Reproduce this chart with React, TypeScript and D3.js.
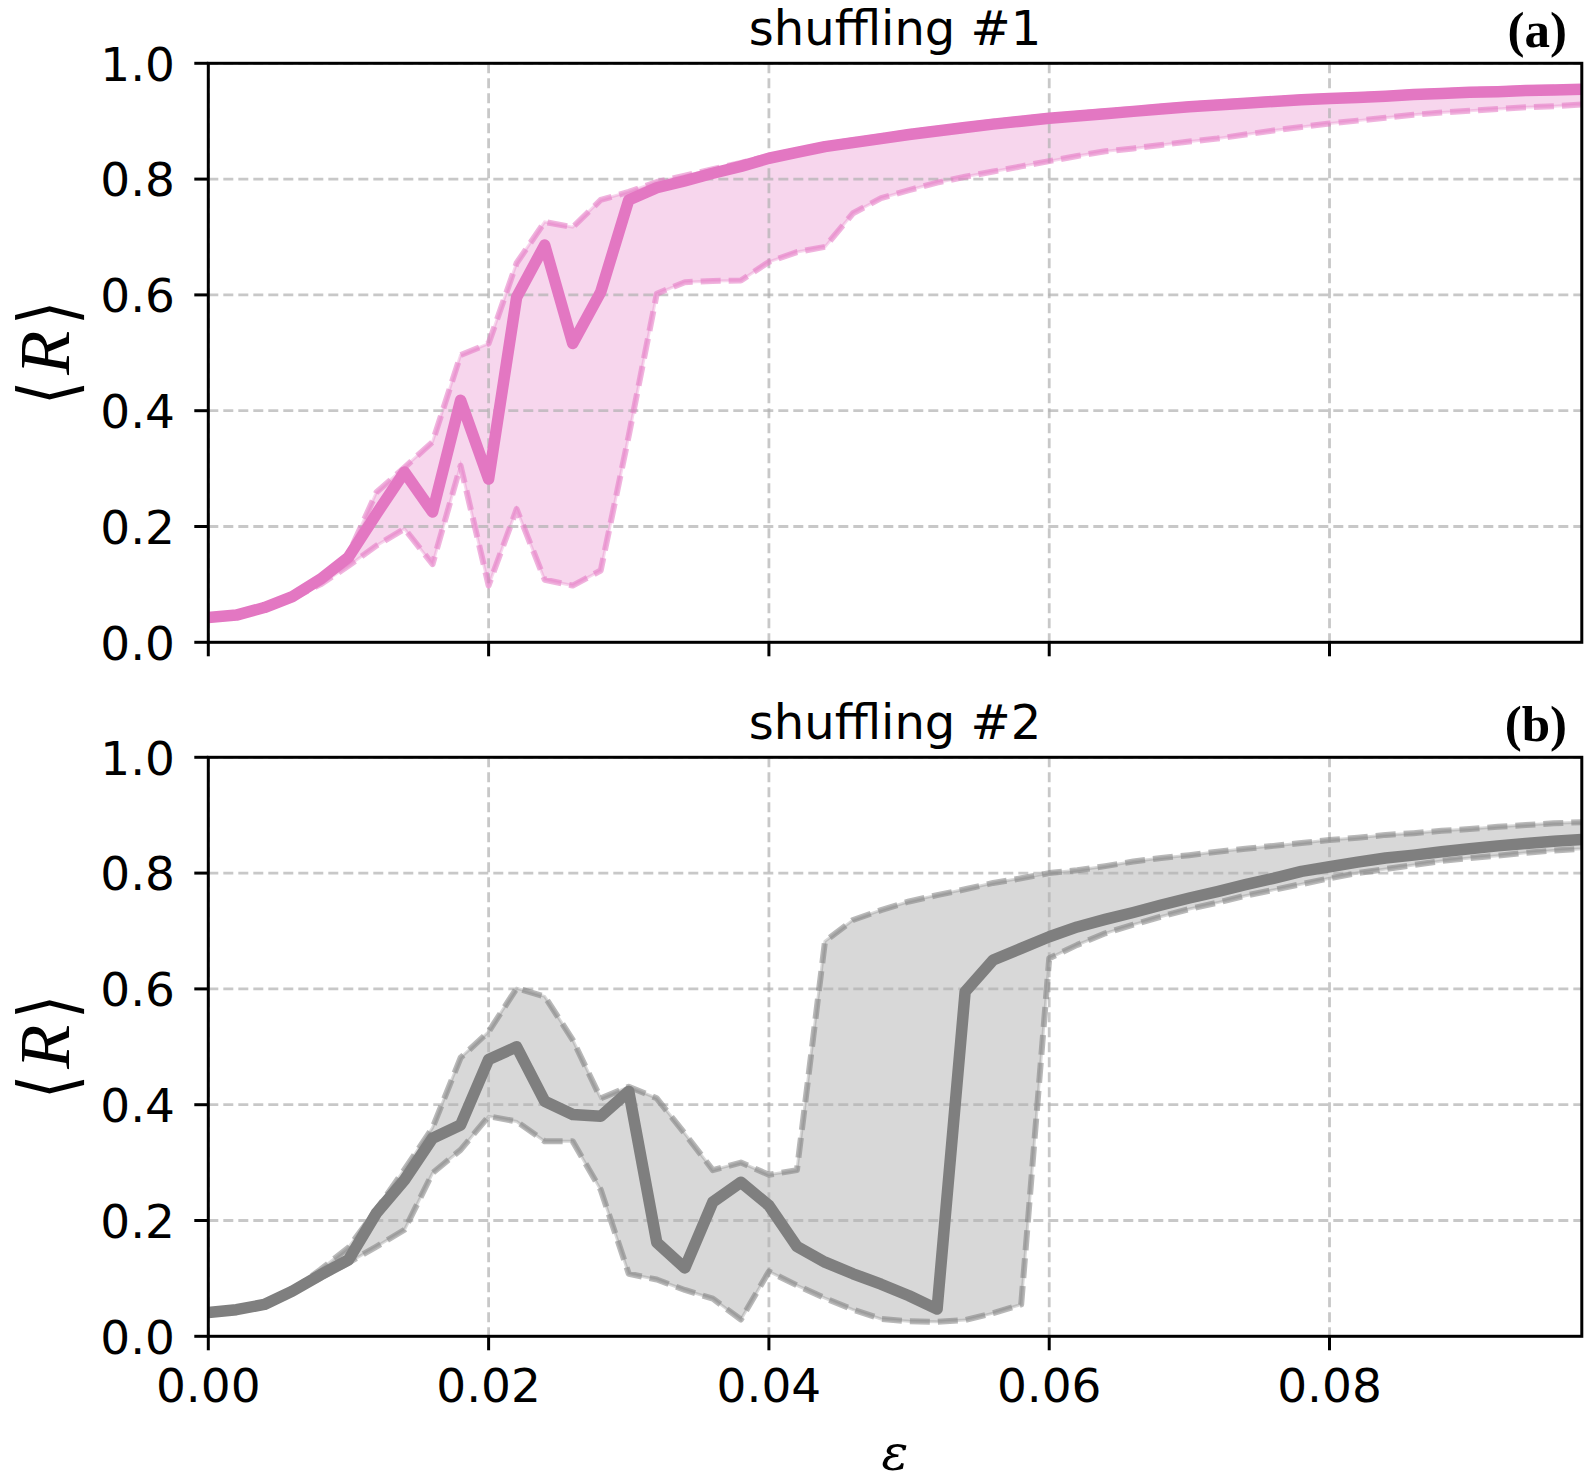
import { area, line, scaleLinear } from 'd3';

// coupling strength (x), one sample every 0.002
const eps = [
  0, 0.002, 0.004, 0.006, 0.008, 0.01, 0.012, 0.014, 0.016, 0.018,
  0.02, 0.022, 0.024, 0.026, 0.028, 0.03, 0.032, 0.034, 0.036, 0.038,
  0.04, 0.042, 0.044, 0.046, 0.048, 0.05, 0.052, 0.054, 0.056, 0.058,
  0.06, 0.062, 0.064, 0.066, 0.068, 0.07, 0.072, 0.074, 0.076, 0.078,
  0.08, 0.082, 0.084, 0.086, 0.088, 0.09, 0.092, 0.094, 0.096, 0.098,
];

// shuffling #1
const meanA = [
  0.043, 0.047, 0.06, 0.079, 0.109, 0.147, 0.222, 0.294, 0.225, 0.418,
  0.282, 0.596, 0.686, 0.516, 0.605, 0.764, 0.785, 0.797, 0.81, 0.822,
  0.836, 0.846, 0.856, 0.863, 0.87, 0.877, 0.883, 0.889, 0.895, 0.9,
  0.905, 0.909, 0.913, 0.917, 0.921, 0.925, 0.928, 0.931, 0.934, 0.937,
  0.939, 0.941, 0.943, 0.946, 0.948, 0.95, 0.951, 0.953, 0.954, 0.955,
];
const upA = [
  0.044, 0.048, 0.061, 0.08, 0.112, 0.152, 0.259, 0.302, 0.346, 0.496,
  0.516, 0.655, 0.726, 0.717, 0.764, 0.778, 0.795, 0.806, 0.817, 0.828,
  0.84, 0.85, 0.86, 0.867, 0.874, 0.881, 0.887, 0.893, 0.899, 0.904,
  0.909, 0.913, 0.917, 0.921, 0.925, 0.929, 0.932, 0.935, 0.938, 0.941,
  0.943, 0.945, 0.947, 0.95, 0.952, 0.954, 0.955, 0.957, 0.958, 0.959,
];
const loA = [
  0.042, 0.046, 0.058, 0.076, 0.1, 0.132, 0.167, 0.196, 0.135, 0.305,
  0.098, 0.23, 0.108, 0.098, 0.124, 0.357, 0.602, 0.622, 0.624, 0.625,
  0.657, 0.674, 0.683, 0.741, 0.767, 0.781, 0.794, 0.804, 0.813, 0.822,
  0.831, 0.84, 0.848, 0.853, 0.859, 0.865, 0.87, 0.877, 0.884, 0.89,
  0.896, 0.901, 0.906, 0.911, 0.915, 0.918, 0.921, 0.924, 0.926, 0.929,
];

// shuffling #2
const meanB = [
  0.041, 0.046, 0.055, 0.078, 0.106, 0.132, 0.213, 0.27, 0.342, 0.365,
  0.478, 0.5, 0.406, 0.383, 0.38, 0.423, 0.162, 0.118, 0.232, 0.266,
  0.226, 0.155, 0.128, 0.108, 0.09, 0.07, 0.047, 0.595, 0.65, 0.67,
  0.69, 0.707, 0.72, 0.732, 0.745, 0.757, 0.768, 0.78, 0.791, 0.803,
  0.811, 0.819, 0.826, 0.831, 0.837, 0.842, 0.847, 0.851, 0.855, 0.858,
];
const upB = [
  0.042, 0.047, 0.056, 0.08, 0.115, 0.153, 0.219, 0.288, 0.36, 0.481,
  0.526, 0.601, 0.587, 0.512, 0.411, 0.431, 0.411, 0.35, 0.287, 0.3,
  0.279, 0.287, 0.682, 0.719, 0.736, 0.751, 0.762, 0.772, 0.783, 0.791,
  0.8, 0.805, 0.812, 0.82, 0.826, 0.831, 0.837, 0.842, 0.847, 0.852,
  0.857, 0.861, 0.866, 0.869, 0.873, 0.876, 0.88, 0.883, 0.886, 0.888,
];
const loB = [
  0.04, 0.045, 0.054, 0.076, 0.101, 0.127, 0.155, 0.184, 0.282, 0.322,
  0.38, 0.371, 0.337, 0.337, 0.253, 0.108, 0.098, 0.08, 0.065, 0.029,
  0.112, 0.088, 0.066, 0.046, 0.03, 0.026, 0.025, 0.028, 0.04, 0.055,
  0.653, 0.676, 0.696, 0.711, 0.725, 0.738, 0.749, 0.761, 0.771, 0.781,
  0.791, 0.8, 0.807, 0.814, 0.821, 0.826, 0.83, 0.835, 0.839, 0.842,
];

const xTicks = [0, 0.02, 0.04, 0.06, 0.08];
const xTickLabels = ['0.00', '0.02', '0.04', '0.06', '0.08'];
const yTicks = [0, 0.2, 0.4, 0.6, 0.8, 1.0];
const yTickLabels = ['0.0', '0.2', '0.4', '0.6', '0.8', '1.0'];

const W = 1584;
const H = 1483;
const left = 208.3;
const right = 1581.8;
const axH = 579;
const font = 'DejaVu Sans';

const x = scaleLinear().domain([0, 0.098]).range([left, right]);

type Pt = { e: number; m: number; u: number; l: number };

function YLabel({ cy }: { cy: number }) {
  // rotated ⟨R⟩, reading bottom to top
  return (
    <g transform={`translate(69,${cy}) rotate(-90)`}>
      <text x={-40} y={0} textAnchor="middle" fontFamily="DejaVu Sans" fontSize={62} transform="translate(-40,5) scale(1,1.25) translate(40,0)">
        ⟨
      </text>
      <text x={0} y={0} textAnchor="middle" fontFamily="Liberation Serif" fontStyle="italic" fontSize={72}>
        R
      </text>
      <text x={40} y={0} textAnchor="middle" fontFamily="DejaVu Sans" fontSize={62} transform="translate(40,5) scale(1,1.25) translate(-40,0)">
        ⟩
      </text>
    </g>
  );
}

function Panel(props: {
  id: string;
  top: number;
  mean: number[];
  up: number[];
  lo: number[];
  color: string;
  title: string;
  tag: string;
  xLabels: boolean;
}) {
  const { id, top, mean, up, lo, color, title, tag, xLabels } = props;
  const bottom = top + axH;
  const y = scaleLinear().domain([0, 1]).range([bottom, top]);
  const pts: Pt[] = eps.map((e, i) => ({ e, m: mean[i], u: up[i], l: lo[i] }));

  const band = area<Pt>()
    .x((d) => x(d.e))
    .y0((d) => y(d.l))
    .y1((d) => y(d.u));
  const meanLine = line<Pt>().x((d) => x(d.e)).y((d) => y(d.m));
  const upLine = line<Pt>().x((d) => x(d.e)).y((d) => y(d.u));
  const loLine = line<Pt>().x((d) => x(d.e)).y((d) => y(d.l));

  const grid = '#b0b0b0';

  return (
    <g>
      <defs>
        <clipPath id={id}>
          <rect x={left} y={top} width={right - left} height={axH} />
        </clipPath>
      </defs>
      <g clipPath={`url(#${id})`}>
        <path d={band(pts) || ''} fill={color} fillOpacity={0.3} stroke={color} strokeOpacity={0.3} strokeWidth={3} />
        {xTicks.map((t) => (
          <line key={'gx' + t} x1={x(t)} x2={x(t)} y1={top} y2={bottom} stroke={grid} strokeOpacity={0.7} strokeWidth={2.8} strokeDasharray="10,5" />
        ))}
        {yTicks.map((t) => (
          <line key={'gy' + t} x1={left} x2={right} y1={y(t)} y2={y(t)} stroke={grid} strokeOpacity={0.7} strokeWidth={2.8} strokeDasharray="10,5" />
        ))}
        <path d={upLine(pts) || ''} fill="none" stroke={color} strokeOpacity={0.55} strokeWidth={6} strokeDasharray="20,8" strokeLinejoin="round" />
        <path d={loLine(pts) || ''} fill="none" stroke={color} strokeOpacity={0.55} strokeWidth={6} strokeDasharray="20,8" strokeLinejoin="round" />
        <path d={meanLine(pts) || ''} fill="none" stroke={color} strokeWidth={11.5} strokeLinejoin="round" />
      </g>
      <rect x={left} y={top} width={right - left} height={axH} fill="none" stroke="#000" strokeWidth={3} />
      {yTicks.map((t, i) => (
        <g key={'ty' + t}>
          <line x1={left - 14} x2={left} y1={y(t)} y2={y(t)} stroke="#000" strokeWidth={3} />
          <text x={175} y={y(t)} dy="0.37em" textAnchor="end" fontFamily={font} fontSize={47}>
            {yTickLabels[i]}
          </text>
        </g>
      ))}
      {xTicks.map((t, i) => (
        <g key={'tx' + t}>
          <line x1={x(t)} x2={x(t)} y1={bottom} y2={bottom + 14} stroke="#000" strokeWidth={3} />
          {xLabels && (
            <text x={x(t)} y={bottom + 66} textAnchor="middle" fontFamily={font} fontSize={47}>
              {xTickLabels[i]}
            </text>
          )}
        </g>
      ))}
      <text x={(left + right) / 2} y={top - 18} textAnchor="middle" fontFamily={font} fontSize={48}>
        {title}
      </text>
      <text x={1567} y={top - 16} textAnchor="end" fontFamily="Liberation Serif" fontWeight="bold" fontSize={51}>
        {tag}
      </text>
      <YLabel cy={(top + bottom) / 2} />
    </g>
  );
}

export default function App() {
  return (
    <svg width={W} height={H} style={{ position: 'absolute', left: 0, top: 0, background: '#fff' }}>
      <rect width={W} height={H} fill="#fff" />
      <Panel id="clipA" top={63.3} mean={meanA} up={upA} lo={loA} color="#e377c2" title="shuffling #1" tag="(a)" xLabels={false} />
      <Panel id="clipB" top={757.3} mean={meanB} up={upB} lo={loB} color="#7f7f7f" title="shuffling #2" tag="(b)" xLabels={true} />
      <text x={895} y={1470} textAnchor="middle" fontFamily="DejaVu Serif" fontStyle="italic" fontSize={50}>
        ε
      </text>
    </svg>
  );
}
